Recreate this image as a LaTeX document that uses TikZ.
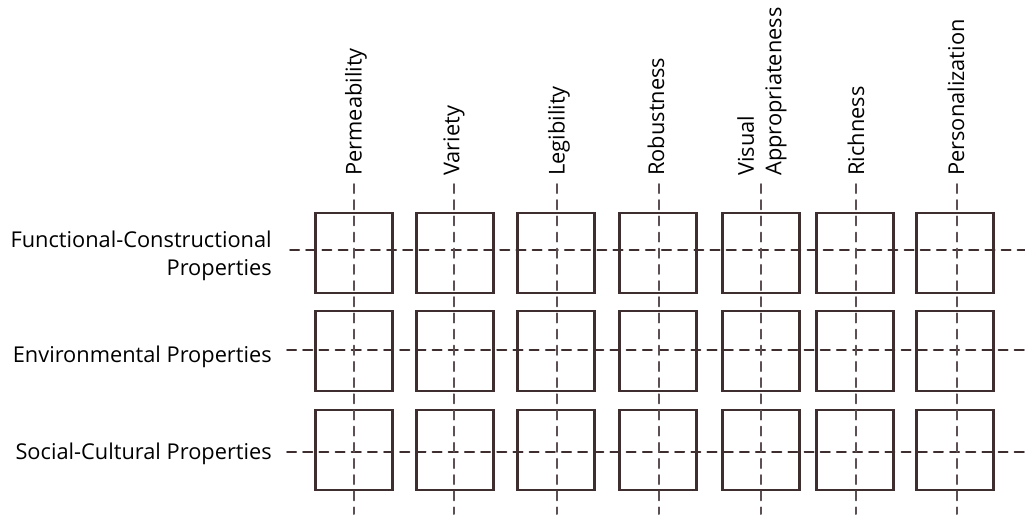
\documentclass[tikz,border=0pt]{standalone}
\usepackage{fontspec}
\setmainfont{Open Sans}
\usepackage{xcolor}
\usepackage{tikz}

\definecolor{pencil}{RGB}{62,46,48}
\definecolor{pencilgrey}{RGB}{92,80,82}

\begin{document}
\begin{tikzpicture}[x=0.025cm,y=-0.025cm,
    every path/.style={line cap=round},
    every node/.style={font=\fontsize{15.5}{19.5}\selectfont,inner sep=0pt},
    cell/.style={draw=pencil,line width=1.5pt,rectangle,minimum width=1.925cm,minimum height=2cm},
    guide/.style={draw=pencil,line width=1.4pt,dash pattern=on 6.5pt off 5pt},
    vguide/.style={draw=pencilgrey,line width=1.4pt,dash pattern=on 6.5pt off 5pt},
    rowlabel/.style={anchor=east,align=right},
    collabel/.style={rotate=90,anchor=west,align=left}]
            \useasboundingbox (0,0) rectangle (1025,514);
            % squares, one per row and column
            \foreach \r/\ry in {1/253,2/351,3/450}
              \foreach \c/\cx in {1/354,2/455,3/556,4/658,5/761,6/855,7/955}
                \node[cell] (c\r\c) at (\cx,\ry) {};
            % row and column labels
            \node[rowlabel] (r1) at (272,256) {Functional-Constructional\\Properties};
            \node[rowlabel] (r2) at (272,357) {Environmental Properties};
            \node[rowlabel] (r3) at (272,454) {Social-Cultural Properties};
            \node[collabel] (k1) at (356,176) {Permeability};
            \node[collabel] (k2) at (454,176) {Variety};
            \node[collabel] (k3) at (559,176) {Legibility};
            \node[collabel] (k4) at (656,176) {Robustness};
            \node[collabel] (k5) at (762,176) {Visual\\Appropriateness};
            \node[collabel] (k6) at (856,176) {Richness};
            \node[collabel] (k7) at (956,176) {Personalization};
            % ends of the dashed guides
            \coordinate (h1a) at (290,250); \coordinate (h1b) at (1025,250);
            \coordinate (h2a) at (287,350); \coordinate (h2b) at (1025,350);
            \coordinate (h3a) at (287,452); \coordinate (h3b) at (1025,452);
            \foreach \c/\cx in {1/354,2/454,3/557,4/659,5/761,6/856,7/957} {
              \coordinate (v\c a) at (\cx,184);
              \coordinate (v\c b) at (\cx,514);
            }
            \draw[guide] (h1a) -- (h1b);
            \draw[guide] (h2a) -- (h2b);
            \draw[guide] (h3a) -- (h3b);
            \foreach \c in {1,...,7}
              \draw[vguide] (v\c a) -- (v\c b);
        \end{tikzpicture}
\end{document}
